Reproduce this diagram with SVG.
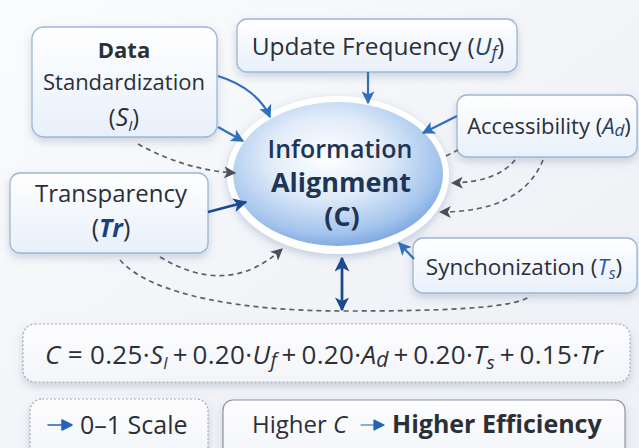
<svg xmlns="http://www.w3.org/2000/svg" width="639" height="448" viewBox="0 0 639 448">
<defs>
  <linearGradient id="bg" x1="0" y1="0" x2="1" y2="1">
    <stop offset="0" stop-color="#fbfcfd"/>
    <stop offset="0.6" stop-color="#f1f3f7"/>
    <stop offset="1" stop-color="#eef1f6"/>
  </linearGradient>
  <linearGradient id="boxfill" x1="0" y1="0" x2="0" y2="1">
    <stop offset="0" stop-color="#ffffff"/>
    <stop offset="1" stop-color="#e8f0fa"/>
  </linearGradient>
  <linearGradient id="plainfill" x1="0" y1="0" x2="0" y2="1">
    <stop offset="0" stop-color="#fdfdfe"/>
    <stop offset="1" stop-color="#f3f5f9"/>
  </linearGradient>
  <radialGradient id="ellfill" cx="0.45" cy="0.38" r="0.62">
    <stop offset="0" stop-color="#ffffff"/>
    <stop offset="0.45" stop-color="#e1ecf9"/>
    <stop offset="0.85" stop-color="#a5c5ed"/>
    <stop offset="1" stop-color="#82ace2"/>
  </radialGradient>
  <filter id="shadow" x="-20%" y="-20%" width="140%" height="160%">
    <feDropShadow dx="0" dy="4" stdDeviation="4" flood-color="#6b7f99" flood-opacity="0.3"/>
  </filter>
  <filter id="eshadow" x="-20%" y="-20%" width="140%" height="150%">
    <feDropShadow dx="0" dy="3" stdDeviation="5" flood-color="#5a7aa8" flood-opacity="0.35"/>
  </filter>
  <marker id="ah-blue" viewBox="0 0 10 10" refX="9" refY="5" markerWidth="13" markerHeight="13" markerUnits="userSpaceOnUse" orient="auto">
    <path d="M0,0 L10,5 L0,10 L2.5,5 Z" fill="#2f6fc0"/>
  </marker>
  <marker id="ah-navy" viewBox="0 0 10 10" refX="9" refY="5" markerWidth="14" markerHeight="14" markerUnits="userSpaceOnUse" orient="auto">
    <path d="M0,0 L10,5 L0,10 L2.5,5 Z" fill="#1b4a8f"/>
  </marker>
  <marker id="ah-navy-start" viewBox="0 0 10 10" refX="1" refY="5" markerWidth="15" markerHeight="15" markerUnits="userSpaceOnUse" orient="auto">
    <path d="M10,0 L0,5 L10,10 L7.5,5 Z" fill="#1b4a8f"/>
  </marker>
  <marker id="ah-gray" viewBox="0 0 10 10" refX="9" refY="5" markerWidth="12" markerHeight="12" markerUnits="userSpaceOnUse" orient="auto">
    <path d="M0,0 L10,5 L0,10 L2.5,5 Z" fill="#4a4f5a"/>
  </marker>
  <style>
    text { font-family: "Open Sans", "Liberation Sans", sans-serif; fill: #2b2f38; }
    .box { fill: url(#boxfill); stroke: #9db6d6; stroke-width: 1.3; filter: url(#shadow); }
    .lbl { text-anchor: middle; }
    .var { font-style: italic; }
    .ctr { text-anchor: middle; fill: #1e3556; }
    .solid { fill: none; stroke: #2f6fc0; stroke-width: 2.2; marker-end: url(#ah-blue); }
    .navy { fill: none; stroke: #1b4a8f; stroke-width: 2.8; marker-end: url(#ah-navy); }
    .dash { fill: none; stroke: #5a5f6a; stroke-width: 1.7; stroke-dasharray: 5 4; }
    .dashar { marker-end: url(#ah-gray); }
    .frame { fill: url(#plainfill); stroke: #a9adb5; stroke-width: 1.2; stroke-dasharray: 2 2; filter: url(#shadow); }
  </style>
</defs>

<rect x="0" y="0" width="639" height="448" fill="url(#bg)"/>

<g id="node-data-standardization">
  <rect class="box" x="32" y="27" width="185" height="110" rx="12"/>
  <text class="lbl" x="124" y="58" font-size="22" font-weight="700">Data</text>
  <text class="lbl" x="124" y="90" font-size="22">Standardization</text>
  <text class="lbl" x="124" y="126" font-size="23">(<tspan class="var" font-size="25">S</tspan><tspan class="var" font-size="15" dy="5">I</tspan><tspan dy="-5">)</tspan></text>
</g>

<g id="node-update-frequency">
  <rect class="box" x="237" y="19" width="280" height="53" rx="10"/>
  <text class="lbl" x="378" y="55" font-size="24.5">Update Frequency (<tspan class="var" fill="#2a3f66">U</tspan><tspan class="var" font-size="18" dy="4" fill="#2a3f66">f</tspan><tspan dy="-4">)</tspan></text>
</g>

<g id="node-accessibility">
  <rect class="box" x="457" y="95" width="180" height="62" rx="10"/>
  <text class="lbl" x="549" y="134" font-size="22">Accessibility (<tspan class="var" fill="#2a3f66">A</tspan><tspan class="var" font-size="17" dy="2" fill="#2a3f66">d</tspan><tspan dy="-2">)</tspan></text>
</g>

<g id="node-transparency">
  <rect class="box" x="10" y="173" width="198" height="80" rx="10"/>
  <text class="lbl" x="111" y="202" font-size="24">Transparency</text>
  <text class="lbl" x="111" y="237" font-size="25">(<tspan class="var" font-weight="700" fill="#1b3f7a">Tr</tspan>)</text>
</g>

<g id="node-synchronization">
  <rect class="box" x="413" y="238" width="224" height="55" rx="10"/>
  <text class="lbl" x="524" y="275" font-size="22.5">Synchonization (<tspan class="var" fill="#2a5aa0">T</tspan><tspan class="var" font-size="16" dy="4" fill="#2a5aa0">s</tspan><tspan dy="-4">)</tspan></text>
</g>

<g id="node-information-alignment">
  <ellipse cx="338" cy="175" rx="111" ry="79" fill="#ffffff" filter="url(#eshadow)"/>
  <ellipse cx="338" cy="174" rx="105" ry="72" fill="url(#ellfill)"/>
  <text class="ctr" x="340" y="158" font-size="25" font-weight="600">Information</text>
  <text class="ctr" x="341" y="192" font-size="27" font-weight="700">Alignment</text>
  <text class="ctr" x="342" y="226" font-size="27" font-weight="700">(C)</text>
</g>

<g id="node-formula">
  <rect class="frame" x="23" y="324" width="607" height="58" rx="12"/>
  <text x="45" y="364" font-size="26" textLength="558" lengthAdjust="spacing"><tspan class="var">C</tspan> = 0.25·<tspan class="var">S</tspan><tspan class="var" font-size="16" dy="5">I</tspan><tspan dy="-5">&#8201;+&#8201;0.20·</tspan><tspan class="var">U</tspan><tspan class="var" font-size="20" dy="3">f</tspan><tspan dy="-3">&#8201;+&#8201;0.20·</tspan><tspan class="var">A</tspan><tspan class="var" font-size="21" dy="3">d</tspan><tspan dy="-3">&#8201;+&#8201;0.20·</tspan><tspan class="var">T</tspan><tspan class="var" font-size="19" dy="5">s</tspan><tspan dy="-5">&#8201;+&#8201;0.15·</tspan><tspan class="var">Tr</tspan></text>
</g>

<g id="node-scale">
  <rect class="frame" x="30" y="399" width="178" height="60" rx="12"/>
  <path d="M48,425 L62,425 L62,420 L72,425 L62,430 L62,425 Z" fill="#2463b5" stroke="#2463b5" stroke-width="1.5" stroke-linejoin="round"/>
  <text x="80" y="434" font-size="25">0–1 Scale</text>
</g>

<g id="node-efficiency">
  <rect x="223" y="400" width="402" height="60" rx="10" fill="url(#plainfill)" stroke="#8f969f" stroke-width="1.2" filter="url(#shadow)"/>
  <text x="252" y="433" font-size="24">Higher <tspan class="var">C</tspan></text>
  <path d="M361,425 L374,425 L374,420 L384,425 L374,430 L374,425 Z" fill="#2463b5" stroke="#2463b5" stroke-width="1.2" stroke-linejoin="round"/>
  <text x="392" y="433" font-size="25" font-weight="700">Higher Efficiency</text>
</g>

<g id="connectors">
  <path class="solid" d="M218,76 C244,84 262,99 270,117"/>
  <path class="solid" d="M218,127 L243,141"/>
  <path class="dash dashar" d="M138,144 Q185,170 235,173"/>
  <path class="solid" d="M368,72 L368,103"/>
  <path class="solid" d="M457,116 L423,133"/>
  <path class="dash" d="M446,156 L458,150"/>
  <path class="dash dashar" d="M515,160 Q497,182 452,183"/>
  <path class="dash dashar" d="M543,160 Q522,212 440,212"/>
  <path class="navy" d="M208,212 L246,202"/>
  <path class="dash dashar" d="M160,257 Q228,298 282,249"/>
  <path class="dash" d="M120,260 C152,296 245,311 342,311 C440,311 512,309 531,296"/>
  <path class="solid" d="M414,259 L399,243"/>
  <path d="M342,258 L342,310" fill="none" stroke="#1b4a8f" stroke-width="2.8" marker-start="url(#ah-navy-start)" marker-end="url(#ah-navy)"/>
</g>
</svg>
